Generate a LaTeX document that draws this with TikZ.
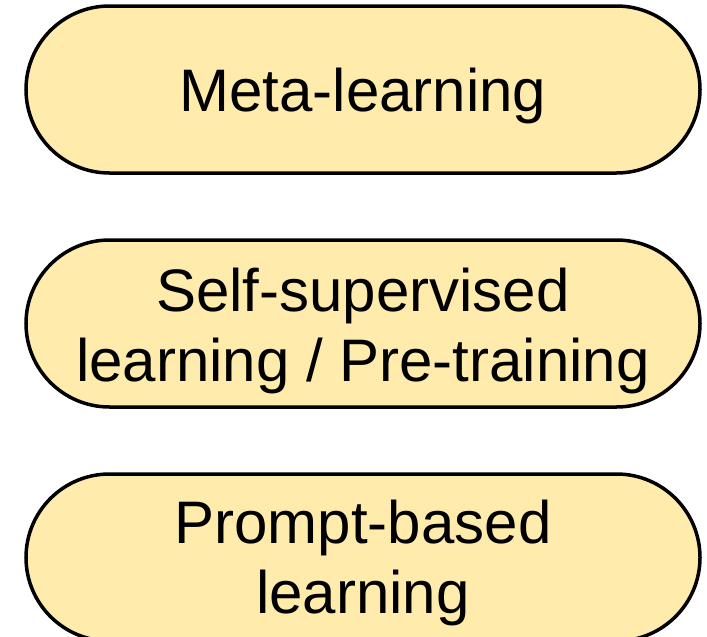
\documentclass[tikz,border=0pt]{standalone}
\usepackage{fontspec}
\setmainfont{Liberation Sans}
\definecolor{pillfill}{HTML}{FFEBAB}
\tikzset{
	pill/.style={shape=rectangle, draw, line width=3.5pt, fill=pillfill, minimum width=674pt, minimum height=167pt, rounded corners=83.5pt},
	pilltext/.style={align=center, inner sep=0pt, font=\fontsize{60}{70}\selectfont}
}

\begin{document}
\begin{tikzpicture}[x=1pt, y=-1pt]
	% Frame and boxes:
	\useasboundingbox (0, 0) rectangle (707, 637);
	\clip (0, 0) rectangle (707, 637);
	\node[pill](meta) at (363, 89.5){};
	\node[pilltext](metatext) at ([yshift=-6pt]meta.center){Meta-learning};
	\node[pill](self) at (363, 323.5){};
	\node[pilltext](selftext) at ([yshift=-7pt]self.center){Self-supervised\\learning / Pre-training};
	\node[pill](prompt) at (363, 557.5){};
	\node[pilltext](prompttext) at ([yshift=-5pt]prompt.center){Prompt-based\\learning};
\end{tikzpicture}
\end{document}
